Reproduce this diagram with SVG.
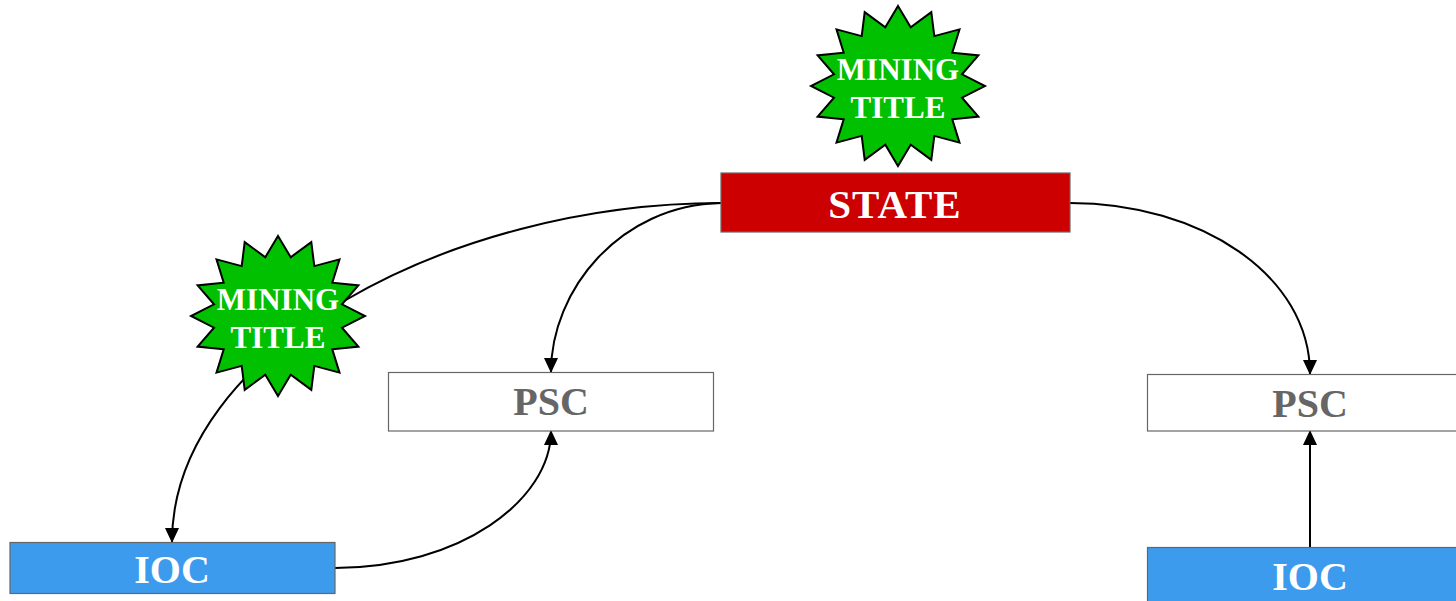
<svg xmlns="http://www.w3.org/2000/svg" width="1456" height="601" viewBox="0 0 1456 601">
<style>
.lbl{font-family:"Liberation Serif","Times New Roman",serif;font-weight:bold;text-anchor:middle}
.star{fill:#00c000;stroke:#000;stroke-width:2;stroke-linejoin:miter}
.startxt{fill:#fff;font-size:31px}
.box{stroke:#666;stroke-width:1.2}
.conn{fill:none;stroke:#000;stroke-width:2}
</style>
<defs>
<marker id="arr" markerUnits="userSpaceOnUse" markerWidth="15" markerHeight="14" refX="14" refY="7" orient="auto">
<path d="M0,0 L15,7 L0,14 z" fill="#000"/>
</marker>
<polygon id="seal" points="0,-80 12.7,-58.8 33.3,-73.9 36.3,-49.9 61.5,-56.6 54.3,-33.3 80.4,-30.6 64,-11.7 87,0 64,11.7 80.4,30.6 54.3,33.3 61.5,56.6 36.3,49.9 33.3,73.9 12.7,58.8 0,80 -12.7,58.8 -33.3,73.9 -36.3,49.9 -61.5,56.6 -54.3,33.3 -80.4,30.6 -64,11.7 -87,0 -64,-11.7 -80.4,-30.6 -54.3,-33.3 -61.5,-56.6 -36.3,-49.9 -33.3,-73.9 -12.7,-58.8"/>
</defs>
<rect width="1456" height="601" fill="#fff"/>
<g id="connectors">
<path class="conn" d="M721,203 C450,203 172,350 172,542" marker-end="url(#arr)"/>
<path class="conn" d="M721,203 C620,205 551,290 551,372" marker-end="url(#arr)"/>
<path class="conn" d="M1070,203 C1200,203 1310,275 1310,374" marker-end="url(#arr)"/>
<path class="conn" d="M335,568 C460,568 551,500 551,431" marker-end="url(#arr)"/>
<path class="conn" d="M1310,548 L1310,431" marker-end="url(#arr)"/>
</g>
<g id="star-top">
<use href="#seal" class="star" transform="translate(898,86)"/>
<text class="lbl startxt" x="898" y="80">MINING</text>
<text class="lbl startxt" x="898" y="118">TITLE</text>
</g>
<g id="state">
<rect class="box" x="721" y="173" width="349" height="59" fill="#cc0000" stroke="#333"/>
<text class="lbl" x="895" y="218" font-size="41" letter-spacing="1" fill="#fff">STATE</text>
</g>
<g id="star-left">
<use href="#seal" class="star" transform="translate(278,316)"/>
<text class="lbl startxt" x="278" y="310">MINING</text>
<text class="lbl startxt" x="278" y="348">TITLE</text>
</g>
<g id="psc-left">
<rect class="box" x="388.5" y="372.5" width="325" height="58.5" fill="#fff"/>
<text class="lbl" x="551" y="415" font-size="40" fill="#666">PSC</text>
</g>
<g id="psc-right">
<rect class="box" x="1147.5" y="374.5" width="325" height="56.5" fill="#fff"/>
<text class="lbl" x="1310" y="417" font-size="40" fill="#666">PSC</text>
</g>
<g id="ioc-left">
<rect class="box" x="10" y="542.5" width="325" height="51" fill="#3d9bee"/>
<text class="lbl" x="172" y="583" font-size="40" fill="#fff">IOC</text>
</g>
<g id="ioc-right">
<rect class="box" x="1147.5" y="547.5" width="325" height="60" fill="#3d9bee"/>
<text class="lbl" x="1310" y="590" font-size="40" fill="#fff">IOC</text>
</g>
</svg>
